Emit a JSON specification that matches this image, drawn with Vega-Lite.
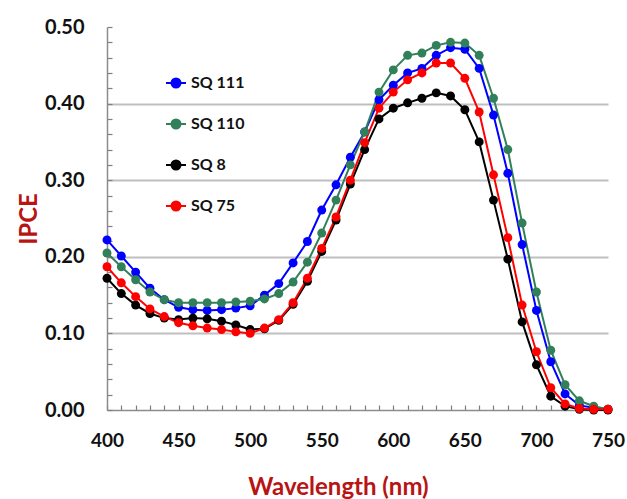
{
  "$schema": "https://vega.github.io/schema/vega-lite/v6.json",
  "width": 501,
  "height": 383,
  "autosize": {"type": "none"},
  "padding": {"left": 107, "top": 27, "right": 19, "bottom": 89},
  "background": "white",
  "config": {"view": {"stroke": null}, "font": "Lato"},
  "data": {"values": [
    {"s":"SQ 111","w":400,"v":0.222},{"s":"SQ 111","w":410,"v":0.201},{"s":"SQ 111","w":420,"v":0.180},{"s":"SQ 111","w":430,"v":0.159},{"s":"SQ 111","w":440,"v":0.144},{"s":"SQ 111","w":450,"v":0.134},{"s":"SQ 111","w":460,"v":0.131},{"s":"SQ 111","w":470,"v":0.130},{"s":"SQ 111","w":480,"v":0.131},{"s":"SQ 111","w":490,"v":0.133},{"s":"SQ 111","w":500,"v":0.136},{"s":"SQ 111","w":510,"v":0.150},{"s":"SQ 111","w":520,"v":0.165},{"s":"SQ 111","w":530,"v":0.192},{"s":"SQ 111","w":540,"v":0.220},{"s":"SQ 111","w":550,"v":0.261},{"s":"SQ 111","w":560,"v":0.294},{"s":"SQ 111","w":570,"v":0.330},{"s":"SQ 111","w":580,"v":0.363},{"s":"SQ 111","w":590,"v":0.405},{"s":"SQ 111","w":600,"v":0.424},{"s":"SQ 111","w":610,"v":0.440},{"s":"SQ 111","w":620,"v":0.446},{"s":"SQ 111","w":630,"v":0.463},{"s":"SQ 111","w":640,"v":0.473},{"s":"SQ 111","w":650,"v":0.471},{"s":"SQ 111","w":660,"v":0.446},{"s":"SQ 111","w":670,"v":0.385},{"s":"SQ 111","w":680,"v":0.309},{"s":"SQ 111","w":690,"v":0.216},{"s":"SQ 111","w":700,"v":0.130},{"s":"SQ 111","w":710,"v":0.063},{"s":"SQ 111","w":720,"v":0.021},{"s":"SQ 111","w":730,"v":0.006},{"s":"SQ 111","w":740,"v":0.003},{"s":"SQ 111","w":750,"v":0.001},
    {"s":"SQ 110","w":400,"v":0.205},{"s":"SQ 110","w":410,"v":0.187},{"s":"SQ 110","w":420,"v":0.170},{"s":"SQ 110","w":430,"v":0.154},{"s":"SQ 110","w":440,"v":0.144},{"s":"SQ 110","w":450,"v":0.140},{"s":"SQ 110","w":460,"v":0.140},{"s":"SQ 110","w":470,"v":0.140},{"s":"SQ 110","w":480,"v":0.140},{"s":"SQ 110","w":490,"v":0.141},{"s":"SQ 110","w":500,"v":0.142},{"s":"SQ 110","w":510,"v":0.145},{"s":"SQ 110","w":520,"v":0.152},{"s":"SQ 110","w":530,"v":0.167},{"s":"SQ 110","w":540,"v":0.193},{"s":"SQ 110","w":550,"v":0.231},{"s":"SQ 110","w":560,"v":0.274},{"s":"SQ 110","w":570,"v":0.320},{"s":"SQ 110","w":580,"v":0.363},{"s":"SQ 110","w":590,"v":0.415},{"s":"SQ 110","w":600,"v":0.444},{"s":"SQ 110","w":610,"v":0.463},{"s":"SQ 110","w":620,"v":0.466},{"s":"SQ 110","w":630,"v":0.476},{"s":"SQ 110","w":640,"v":0.480},{"s":"SQ 110","w":650,"v":0.479},{"s":"SQ 110","w":660,"v":0.463},{"s":"SQ 110","w":670,"v":0.407},{"s":"SQ 110","w":680,"v":0.340},{"s":"SQ 110","w":690,"v":0.244},{"s":"SQ 110","w":700,"v":0.154},{"s":"SQ 110","w":710,"v":0.078},{"s":"SQ 110","w":720,"v":0.033},{"s":"SQ 110","w":730,"v":0.012},{"s":"SQ 110","w":740,"v":0.005},{"s":"SQ 110","w":750,"v":0.001},
    {"s":"SQ 8","w":400,"v":0.172},{"s":"SQ 8","w":410,"v":0.152},{"s":"SQ 8","w":420,"v":0.137},{"s":"SQ 8","w":430,"v":0.126},{"s":"SQ 8","w":440,"v":0.120},{"s":"SQ 8","w":450,"v":0.118},{"s":"SQ 8","w":460,"v":0.120},{"s":"SQ 8","w":470,"v":0.119},{"s":"SQ 8","w":480,"v":0.116},{"s":"SQ 8","w":490,"v":0.111},{"s":"SQ 8","w":500,"v":0.105},{"s":"SQ 8","w":510,"v":0.106},{"s":"SQ 8","w":520,"v":0.117},{"s":"SQ 8","w":530,"v":0.138},{"s":"SQ 8","w":540,"v":0.168},{"s":"SQ 8","w":550,"v":0.207},{"s":"SQ 8","w":560,"v":0.248},{"s":"SQ 8","w":570,"v":0.295},{"s":"SQ 8","w":580,"v":0.340},{"s":"SQ 8","w":590,"v":0.380},{"s":"SQ 8","w":600,"v":0.394},{"s":"SQ 8","w":610,"v":0.401},{"s":"SQ 8","w":620,"v":0.407},{"s":"SQ 8","w":630,"v":0.414},{"s":"SQ 8","w":640,"v":0.410},{"s":"SQ 8","w":650,"v":0.392},{"s":"SQ 8","w":660,"v":0.350},{"s":"SQ 8","w":670,"v":0.274},{"s":"SQ 8","w":680,"v":0.197},{"s":"SQ 8","w":690,"v":0.115},{"s":"SQ 8","w":700,"v":0.059},{"s":"SQ 8","w":710,"v":0.018},{"s":"SQ 8","w":720,"v":0.005},{"s":"SQ 8","w":730,"v":0.001},{"s":"SQ 8","w":740,"v":0.000},{"s":"SQ 8","w":750,"v":0.000},
    {"s":"SQ 75","w":400,"v":0.187},{"s":"SQ 75","w":410,"v":0.166},{"s":"SQ 75","w":420,"v":0.148},{"s":"SQ 75","w":430,"v":0.132},{"s":"SQ 75","w":440,"v":0.122},{"s":"SQ 75","w":450,"v":0.114},{"s":"SQ 75","w":460,"v":0.110},{"s":"SQ 75","w":470,"v":0.107},{"s":"SQ 75","w":480,"v":0.105},{"s":"SQ 75","w":490,"v":0.102},{"s":"SQ 75","w":500,"v":0.100},{"s":"SQ 75","w":510,"v":0.107},{"s":"SQ 75","w":520,"v":0.118},{"s":"SQ 75","w":530,"v":0.140},{"s":"SQ 75","w":540,"v":0.172},{"s":"SQ 75","w":550,"v":0.211},{"s":"SQ 75","w":560,"v":0.252},{"s":"SQ 75","w":570,"v":0.300},{"s":"SQ 75","w":580,"v":0.349},{"s":"SQ 75","w":590,"v":0.394},{"s":"SQ 75","w":600,"v":0.415},{"s":"SQ 75","w":610,"v":0.431},{"s":"SQ 75","w":620,"v":0.440},{"s":"SQ 75","w":630,"v":0.453},{"s":"SQ 75","w":640,"v":0.453},{"s":"SQ 75","w":650,"v":0.433},{"s":"SQ 75","w":660,"v":0.389},{"s":"SQ 75","w":670,"v":0.307},{"s":"SQ 75","w":680,"v":0.225},{"s":"SQ 75","w":690,"v":0.137},{"s":"SQ 75","w":700,"v":0.076},{"s":"SQ 75","w":710,"v":0.029},{"s":"SQ 75","w":720,"v":0.008},{"s":"SQ 75","w":730,"v":0.002},{"s":"SQ 75","w":740,"v":0.001},{"s":"SQ 75","w":750,"v":0.001}
  ]},
  "encoding": {
    "x": {
      "field": "w", "type": "quantitative",
      "scale": {"domain": [400, 750], "nice": false, "zero": false},
      "axis": {
        "title": "Wavelength (nm)",
        "values": [400,410,420,430,440,450,460,470,480,490,500,510,520,530,540,550,560,570,580,590,600,610,620,630,640,650,660,670,680,690,700,710,720,730,740,750],
        "labelExpr": "datum.value % 50 == 0 ? format(datum.value, 'd') : ''",
        "labelOverlap": false, "labelFlush": false,
        "labelFont": "Lato", "labelFontSize": 19, "labelFontWeight": "bold", "labelColor": "#111111",
        "labelPadding": 26,
        "tickSize": -5, "tickColor": "#7f7f7f", "tickWidth": 1.2,
        "domainColor": "#8c8c8c", "domainWidth": 1.5,
        "grid": false,
        "titleFont": "Lato", "titleFontSize": 24, "titleFontWeight": "bold", "titleColor": "#B81414",
        "titlePadding": 25, "titleX": 231
      }
    },
    "y": {
      "field": "v", "type": "quantitative",
      "scale": {"domain": [0, 0.5], "nice": false},
      "axis": {
        "title": "IPCE",
        "values": [0,0.02,0.04,0.06,0.08,0.1,0.12,0.14,0.16,0.18,0.2,0.22,0.24,0.26,0.28,0.3,0.32,0.34,0.36,0.38,0.4,0.42,0.44,0.46,0.48,0.5],
        "labelExpr": "abs(datum.value*10 - round(datum.value*10)) < 0.000001 ? format(datum.value, '.2f') : ''",
        "labelOverlap": false, "labelFlush": false,
        "labelFont": "Lato", "labelFontSize": 20, "labelFontWeight": "bold", "labelColor": "#111111",
        "labelPadding": 28,
        "tickSize": -5, "tickColor": "#7f7f7f", "tickWidth": 1.2,
        "domainColor": "#8c8c8c", "domainWidth": 1.5,
        "grid": true, "gridColor": "#bfbfbf", "gridWidth": 2,
        "gridOpacity": {"condition": {"test": "abs(datum.value*10 - round(datum.value*10)) < 0.000001 && datum.value > 0.001 && datum.value < 0.499", "value": 1}, "value": 0},
        "titleFont": "Lato", "titleFontSize": 24, "titleFontWeight": "bold", "titleColor": "#B81414",
        "titlePadding": 3
      }
    },
    "color": {
      "field": "s", "type": "nominal",
      "scale": {"domain": ["SQ 111", "SQ 110", "SQ 8", "SQ 75"], "range": ["#0000FF", "#31805A", "#000000", "#FF0000"]},
      "legend": {
        "title": null, "orient": "none", "legendX": 58, "legendY": 45,
        "padding": 0, "rowPadding": 21,
        "symbolType": "M-1,0L1,0M-0.45,0A0.45,0.45 0 1,1 0.45,0A0.45,0.45 0 1,1 -0.45,0Z",
        "symbolSize": 400, "symbolStrokeWidth": 2,
        "labelFont": "Lato", "labelFontSize": 16, "labelFontWeight": "bold", "labelColor": "#111111", "labelOffset": 4,
        "encode": {"symbols": {"update": {"fill": {"scale": "color", "field": "value"}, "stroke": {"scale": "color", "field": "value"}}}}
      }
    }
  },
  "layer": [
    {"mark": {"type": "line", "strokeWidth": 2}},
    {"mark": {"type": "point", "filled": true, "shape": "circle", "size": 80, "opacity": 1}}
  ]
}
